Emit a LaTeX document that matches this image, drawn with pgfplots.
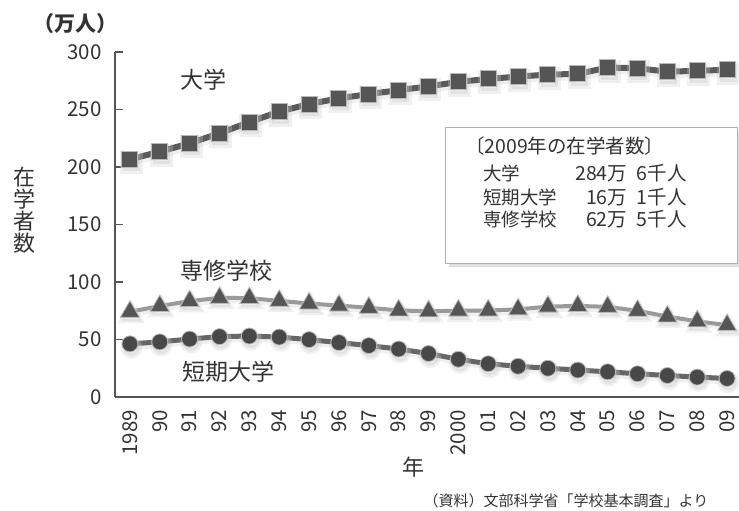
\documentclass[border=0pt]{standalone}
\usepackage{fontspec}
\setmainfont{Noto Sans CJK JP}
\usepackage{pgfplots}
\pgfplotsset{compat=1.18}
\definecolor{mk}{HTML}{555555}
\definecolor{ln1}{HTML}{5A5A5A}
\definecolor{ln2}{HTML}{9A9A9A}
\definecolor{ln3}{HTML}{666666}
\definecolor{txt}{HTML}{333333}
\definecolor{ax}{HTML}{555555}
\newcommand{\fs}[1]{\fontsize{#1}{#1}\selectfont}
\pgfplotstableread{
year univ senshu tanki
1989 206.7 74.1 46.2
1990 213.3 79.1 47.9
1991 220.6 83.4 50.4
1992 229.3 86.2 52.5
1993 239.0 86.0 53.0
1994 248.2 83.6 52.1
1995 254.7 81.3 49.9
1996 259.7 79.5 47.3
1997 263.4 77.6 44.7
1998 266.8 75.3 41.7
1999 270.1 74.5 37.8
2000 274.0 75.1 32.8
2001 276.6 75.2 28.9
2002 278.6 76.2 26.7
2003 280.4 78.6 25.0
2004 280.9 79.2 23.4
2005 286.5 78.4 21.9
2006 285.9 75.0 20.2
2007 282.9 70.0 18.7
2008 283.6 65.8 17.3
2009 284.6 62.5 16.1
}\datatab
\begin{document}
\begin{tikzpicture}
\path[use as bounding box] (0,0) rectangle (739pt,511pt);
\begin{axis}[
  at={(115pt,114pt)}, anchor=south west,
  scale only axis, width=624pt, height=345pt,
  xmin=1988.5, xmax=2009.4, ymin=0, ymax=300,
  axis x line=bottom, axis y line=left,
  axis line style={-, draw=ax, line width=1.2pt},
  tick align=inside,
  ytick={0,50,...,300},
  xtick={1989,...,2009},
  xticklabels={1989,90,91,92,93,94,95,96,97,98,99,2000,01,02,03,04,05,06,07,08,09},
  minor xtick={1989.5,1990.5,...,2008.5},
  xtick style={draw=none},
  minor tick length=8pt,
  major tick length=8pt,
  ytick style={draw=ax, line width=1.2pt},
  minor tick style={draw=ax, line width=1.2pt},
  /pgf/number format/assume math mode=true,
  /pgf/number format/1000 sep={},
  ticklabel style={font=\fs{20.5}, text=txt},
  yticklabel style={anchor=east, xshift=-10pt},
  xticklabel style={yshift=-13pt, rotate=90, anchor=east, inner sep=0pt},
  clip=false,
]
% shadows
\addplot[draw=gray!40, line width=6pt, opacity=0.3, xshift=1.5pt, yshift=-3.5pt, mark=square*, mark size=8.5pt, mark options={fill=gray!50, draw=none}] table[x=year,y=univ] {\datatab};
\addplot[draw=gray!40, line width=4pt, opacity=0.3, xshift=1.5pt, yshift=-3.5pt, mark=triangle*, mark size=11.5pt, mark options={fill=gray!50, draw=none}] table[x=year,y=senshu] {\datatab};
\addplot[draw=gray!40, line width=5pt, opacity=0.3, xshift=1.5pt, yshift=-3.5pt, mark=*, mark size=8.5pt, mark options={fill=gray!50, draw=none}] table[x=year,y=tanki] {\datatab};
% series
\addplot[draw=ln1, line width=6pt, mark=square*, mark size=8pt, mark options={fill=mk, draw=gray!55, line width=1pt}] table[x=year,y=univ] {\datatab};
\addplot[draw=ln2, line width=4pt, mark=triangle*, mark size=11pt, mark options={fill=mk, draw=gray!55, line width=0.8pt}] table[x=year,y=senshu] {\datatab};
\addplot[draw=ln3, line width=5pt, mark=*, mark size=8pt, mark options={fill=mk!85!black, draw=gray!55, line width=0.8pt}] table[x=year,y=tanki] {\datatab};
\node[font=\fs{23}, text=txt] at (axis cs:1991.45,275.7) {大学};
\node[font=\fs{23}, text=txt] at (axis cs:1992.25,109.6) {専修学校};
\node[font=\fs{23}, text=txt] at (axis cs:1992.3,21.7) {短期大学};
\end{axis}
% info box
\fill[gray!25] (449pt,244pt) rectangle (741pt,380pt);
\draw[draw=gray!60, line width=0.8pt, fill=white] (445pt,248pt) rectangle (737pt,384pt);
\node[anchor=west, font=\fs{19.5}, text=txt, inner sep=0pt] at (465pt,365pt) {〔2009年の在学者数〕};
\node[anchor=west, font=\fs{18.5}, text=txt, inner sep=0pt] at (483pt,338pt) {大学};
\node[anchor=west, font=\fs{18.5}, text=txt, inner sep=0pt] at (483pt,314pt) {短期大学};
\node[anchor=west, font=\fs{18.5}, text=txt, inner sep=0pt] at (483pt,292pt) {専修学校};
\node[anchor=east, font=\fs{19.5}, text=txt, inner sep=0pt] at (687pt,338pt) {284万\hspace{0.5em}6千人};
\node[anchor=east, font=\fs{19.5}, text=txt, inner sep=0pt] at (687pt,314pt) {16万\hspace{0.5em}1千人};
\node[anchor=east, font=\fs{19.5}, text=txt, inner sep=0pt] at (687pt,292pt) {62万\hspace{0.5em}5千人};
% titles
\node[font=\bfseries\fs{21}, text=txt] at (75pt,487pt) {（万人）};
\node[font=\fs{22}, text=txt, align=center, inner sep=0pt] at (24pt,301pt) {\fontsize{22}{24.5}\selectfont 在\\学\\者\\数};
\node[font=\fs{22}, text=txt] at (413pt,44pt) {年};
\node[font=\fs{15}, text=txt] at (566pt,10pt) {（資料）文部科学省「学校基本調査」より};
\end{tikzpicture}
\end{document}
